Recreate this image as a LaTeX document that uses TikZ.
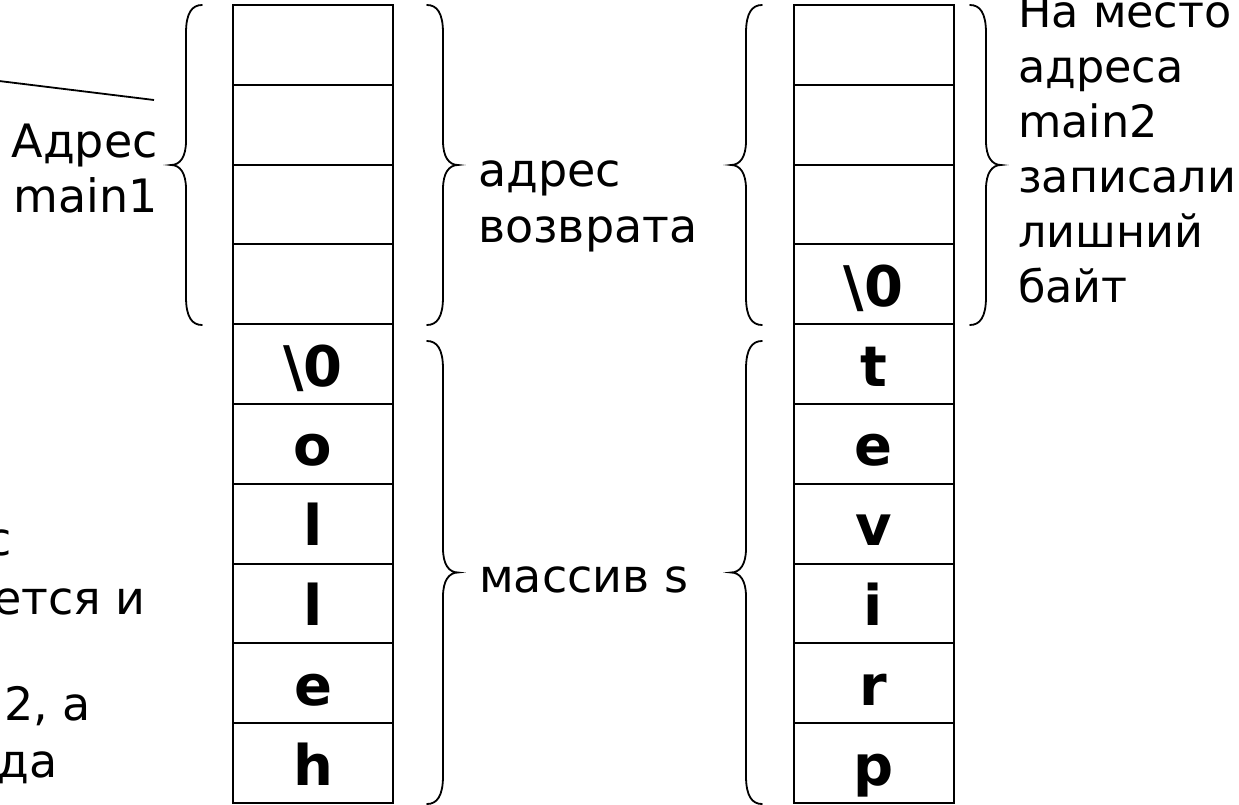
\documentclass[tikz,border=0pt]{standalone}
\usepackage{fontspec}
\setmainfont{DejaVu Sans}

% curly brace: #1 x of the two ends, #2 side (-1 = "{", +1 = "}"), #3 top y, #4 bottom y
\newcommand\curlybrace[4]{%
  \pgfmathsetmacro\bmid{(#3+#4)/2}%
  \begin{scope}[shift={(#1,0)},xscale=#2]
    \draw[bracestyle] (0,#3) .. controls (10,#3) and (16,#3+8) .. (16,#3+28)
      -- (16,\bmid-24) .. controls (16,\bmid-8) and (22,\bmid) .. (31,\bmid)
      .. controls (22,\bmid) and (16,\bmid+8) .. (16,\bmid+24)
      -- (16,#4-28) .. controls (16,#4-8) and (10,#4) .. (0,#4);
  \end{scope}}

\begin{document}
\begin{tikzpicture}[x=1pt,y=-1pt,
  cell/.style={draw,line width=2pt,minimum width=160pt,minimum height=79.8pt,
    inner sep=0pt,text height=50pt,text depth=6pt,
    font=\fontsize{56}{60}\selectfont\bfseries},
  lbl/.style={inner sep=0pt,font=\fontsize{46}{55}\selectfont},
  bracestyle/.style={line width=1.8pt,line cap=round},
  lead/.style={line width=1.8pt}]
\useasboundingbox (0,0) rectangle (1239,805);

% stack before the call: string "hello"
\foreach \t [count=\i from 0] in {{},{},{},{},{\textbackslash0},o,l,l,e,h}
  \node[cell] (l\i) at (313,44.9+79.8*\i) {\t};

% stack after the call: string "privet" overflows into the return address
\foreach \t [count=\i from 0] in {{},{},{},{\textbackslash0},t,e,v,i,r,p}
  \node[cell] (r\i) at (873.5,44.9+79.8*\i) {\t};

% braces
\curlybrace{202}{-1}{5}{325}
\curlybrace{427}{1}{5}{325}
\curlybrace{427}{1}{341}{804}
\curlybrace{762}{-1}{341}{804}
\curlybrace{762}{-1}{5}{325}
\curlybrace{970}{1}{5}{325}

% labels (anchored at the baseline of their last line)
\node[lbl,anchor=base east,align=right] (addr1) at (158,213) {Адрес\\main1};
\node[lbl,anchor=base west,align=left] (ret) at (478,242) {адрес\\возврата};
\node[lbl,anchor=base west] (arr) at (479,592) {массив s};
\node[lbl,anchor=base west,align=left,font=\fontsize{44.5}{55}\selectfont]
  (note) at (1018,302) {На место\\адреса\\main2\\записали\\лишний\\байт};

% leader line towards the address label
\coordinate (leadA) at (-5,80.5);
\coordinate (leadB) at (154,100);
\draw[lead] (leadA) -- (leadB);

% explanation text running in from the left
\node[lbl,anchor=base east] (t1) at (12,555) {с};
\node[lbl,anchor=base east] (t2) at (146,614) {ется и};
\node[lbl,anchor=base east] (t3) at (91,720) {2, а};
\node[lbl,anchor=base east] (t4) at (58,777) {да};
\end{tikzpicture}
\end{document}
